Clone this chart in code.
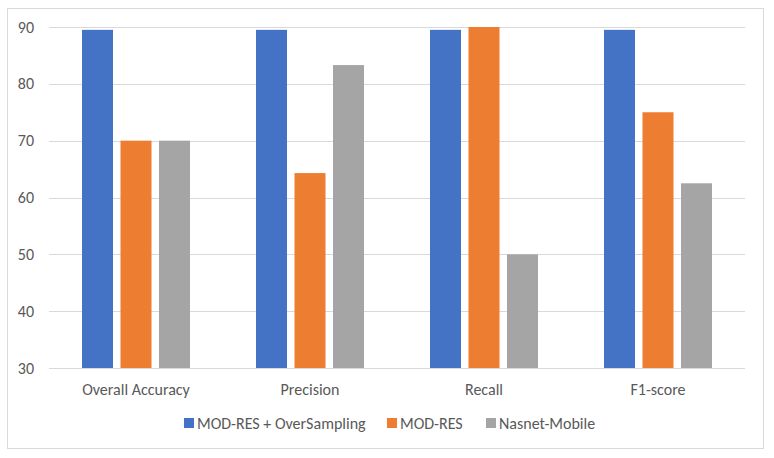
<!DOCTYPE html>
<html>
<head>
<meta charset="utf-8">
<script src="https://cdn.jsdelivr.net/npm/d3@7"></script>
<style>
  body { margin: 0; background: #fff; }
  svg text { font-family: Carlito, Calibri, Lato, "Open Sans", sans-serif; fill: #595959; }
</style>
</head>
<body>
<div id="chart"></div>
<script>
/** Chart data */
const categories = ["Overall Accuracy", "Precision", "Recall", "F1-score"];
const seriesNames = ["MOD-RES + OverSampling", "MOD-RES", "Nasnet-Mobile"];
const modResOver = [89.5, 89.5, 89.5, 89.5];
const modRes = [70, 64.3, 90, 75];
const nasnet = [70, 83.3, 50, 62.5];
const yTicks = [30, 40, 50, 60, 70, 80, 90];
const colors = ["#4472C4", "#ED7D31", "#A5A5A5"];

const seriesValues = [modResOver, modRes, nasnet];

/** Graph configs */
const width = 774;
const height = 458;
const plot = { left: 49, right: 745, top: 27, bottom: 368 };

const svg = d3
  .select("#chart")
  .append("svg")
  .attr("width", width)
  .attr("height", height);

/** Outer frame */
svg
  .append("rect")
  .attr("x", 7.5)
  .attr("y", 8.5)
  .attr("width", 756)
  .attr("height", 440)
  .attr("fill", "#fff")
  .attr("stroke", "#d9d9d9");

/** Scales */
const xScale = d3
  .scaleBand()
  .domain(categories)
  .range([plot.left, plot.right]);

const barWidth = 31;
const barGap = 7.5;
const xSub = d3
  .scaleBand()
  .domain(seriesNames)
  .range([0, barWidth * 3 + barGap * 2])
  .paddingInner(barGap / (barWidth + barGap));

const yScale = d3
  .scaleLinear()
  .domain([30, 90])
  .range([plot.bottom, plot.top]);

/** Gridlines */
svg
  .append("g")
  .selectAll("line")
  .data(yTicks)
  .join("line")
  .attr("x1", plot.left)
  .attr("x2", plot.right)
  .attr("y1", (d) => Math.round(yScale(d)) + 0.5)
  .attr("y2", (d) => Math.round(yScale(d)) + 0.5)
  .attr("stroke", "#d9d9d9")
  .attr("stroke-width", 1);

/** Y tick labels */
svg
  .append("g")
  .selectAll("text")
  .data(yTicks)
  .join("text")
  .attr("x", 34)
  .attr("y", (d) => yScale(d))
  .attr("dy", "0.35em")
  .attr("text-anchor", "end")
  .attr("font-size", 16)
  .text((d) => d);

/** Bars */
const groups = svg
  .append("g")
  .selectAll("g")
  .data(categories)
  .join("g")
  .attr(
    "transform",
    (d) => `translate(${xScale(d) + (xScale.bandwidth() - xSub.range()[1]) / 2},0)`
  );

groups
  .selectAll("rect")
  .data((d, i) => seriesNames.map((s, j) => ({ s, j, v: seriesValues[j][i] })))
  .join("rect")
  .attr("x", (d) => xSub(d.s))
  .attr("width", xSub.bandwidth())
  .attr("y", (d) => yScale(d.v))
  .attr("height", (d) => yScale(30) - yScale(d.v))
  .attr("fill", (d) => colors[d.j]);

/** Category labels */
svg
  .append("g")
  .selectAll("text")
  .data(categories)
  .join("text")
  .attr("x", (d) => xScale(d) + xScale.bandwidth() / 2)
  .attr("y", 389)
  .attr("dy", "0.35em")
  .attr("text-anchor", "middle")
  .attr("font-size", 16)
  .text((d) => d);

/** Legend */
const legendX = [184, 387, 486];
const legend = svg
  .append("g")
  .selectAll("g")
  .data(seriesNames)
  .join("g")
  .attr("transform", (d, i) => `translate(${legendX[i]},423)`);

legend
  .append("rect")
  .attr("x", 0)
  .attr("y", -5)
  .attr("width", 10)
  .attr("height", 10)
  .attr("fill", (d, i) => colors[i]);

legend
  .append("text")
  .attr("x", 13)
  .attr("y", 0)
  .attr("dy", "0.35em")
  .attr("font-size", 16)
  .text((d) => d);
</script>
</body>
</html>
